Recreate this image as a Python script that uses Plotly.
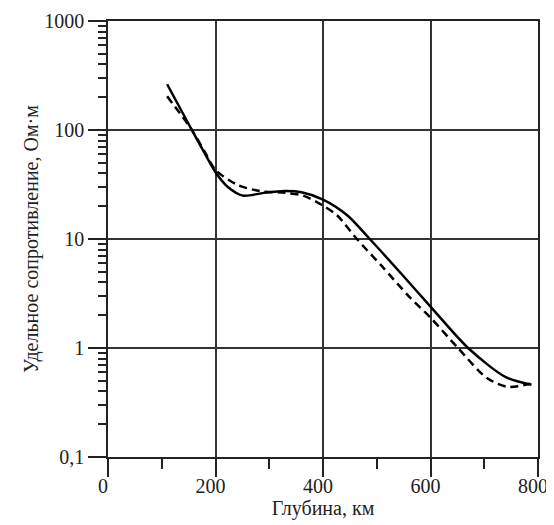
import plotly.graph_objects as go

# Data (depth in km, resistivity in Ohm·m)
solid_x = [110, 156, 180, 200, 223, 251, 290, 330, 360, 400, 445, 487, 549, 600, 670, 740, 788]
solid_y = [263, 100, 61, 41, 30, 25, 26.5, 27.5, 26.8, 23, 16.5, 10, 4.6, 2.4, 1.0, 0.54, 0.46]

dash_x = [110, 156, 180, 200, 240, 283, 330, 363, 398, 426, 463, 510, 562, 600, 651, 705, 744, 786]
dash_y = [204, 100, 63, 43, 31.5, 27.5, 26.5, 25, 20.5, 16.5, 10, 5.6, 2.9, 1.9, 1.0, 0.53, 0.44, 0.47]

x_ticks = [0, 200, 400, 600, 800]
x_minor = [100, 300, 500, 700]
y_ticks = [0.1, 1, 10, 100, 1000]
y_ticklabels = ["0,1", "1", "10", "100", "1000"]
y_minor = [m * 10 ** e for e in range(-1, 3) for m in range(2, 10)]

font = "Liberation Serif"
ink = "#222222"

fig = go.Figure()
fig.add_trace(go.Scatter(x=solid_x, y=solid_y, mode="lines",
                         line=dict(color="black", width=2.5, shape="spline", smoothing=0.8),
                         showlegend=False))
fig.add_trace(go.Scatter(x=dash_x, y=dash_y, mode="lines",
                         line=dict(color="black", width=2.5, dash="8px,5px", shape="spline", smoothing=0.8),
                         showlegend=False))

fig.update_layout(
    width=546, height=517,
    margin=dict(l=100, r=16, t=13, b=68, autoexpand=False),
    paper_bgcolor="white", plot_bgcolor="white",
    font=dict(family=font, size=20, color=ink),
    xaxis=dict(
        range=[0, 800], tickmode="array", tickvals=x_ticks, automargin=False,
        ticks="outside", ticklen=18, tickwidth=1.5, tickcolor=ink,
        ticklabelshift=-5, ticklabelstandoff=-8,
        showline=True, linecolor=ink, linewidth=1.5, mirror=True,
        showgrid=True, gridcolor="#333333", gridwidth=1.5,
        zeroline=False,
        minor=dict(tickmode="array", tickvals=x_minor, ticks="outside", ticklen=10,
                   tickwidth=1.5, tickcolor=ink, showgrid=False),
        title=dict(text="Глубина, км", standoff=4, font=dict(size=20, family=font)),
        tickfont=dict(size=20, family=font),
    ),
    yaxis=dict(
        type="log", range=[-1, 3], tickmode="array", tickvals=y_ticks, ticktext=y_ticklabels,
        automargin=False,
        ticks="outside", ticklen=18, tickwidth=1.5, tickcolor=ink,
        showline=True, linecolor=ink, linewidth=1.5, mirror=True,
        showgrid=True, gridcolor="#333333", gridwidth=1.5,
        zeroline=False,
        minor=dict(tickmode="array", tickvals=y_minor, ticks="outside", ticklen=8,
                   tickwidth=1.5, tickcolor=ink, showgrid=False),
        title=dict(text="Удельное сопротивление, Ом·м", standoff=0, font=dict(size=20, family=font)),
        tickfont=dict(size=20, family=font),
    ),
)

fig.write_html("out.html")
